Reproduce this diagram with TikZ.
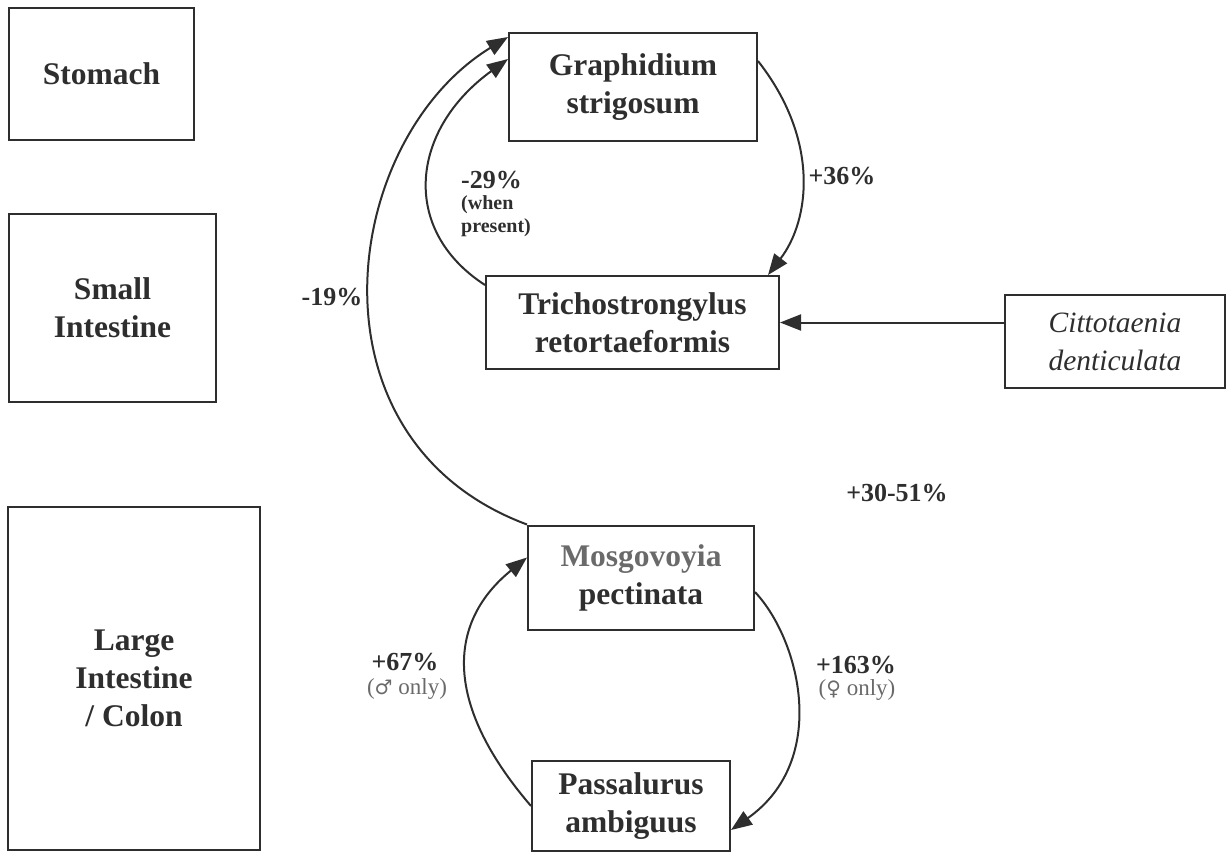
\documentclass[tikz,border=0pt]{standalone}
\usepackage{fontspec}
\setmainfont{Liberation Serif}
\newfontfamily\symfont{DejaVu Sans}
\usetikzlibrary{arrows.meta}
\definecolor{ink}{HTML}{2E2E2E}
\definecolor{soft}{HTML}{6A6A6A}
\begin{document}
\begin{tikzpicture}[x=1pt,y=-1pt,
  box/.style={draw=ink, line width=2pt, align=center, text=ink, inner sep=0pt,
    font=\bfseries\fontsize{31.5}{38}\selectfont},
  conn/.style={draw=ink, line width=2pt, -{Triangle[length=21pt,width=16pt]}},
  pct/.style={text=ink, inner sep=0pt, font=\bfseries\fontsize{26}{30}\selectfont},
  note/.style={text=soft, inner sep=0pt, font=\fontsize{23}{26}\selectfont}]
\useasboundingbox (0,0) rectangle (1232,855);
% organ boxes
\node[box, minimum width=185pt, minimum height=132pt] (sto) at (101.5,74) {Stomach};
\node[box, minimum width=207pt, minimum height=188pt] (sma) at (112.5,308) {Small\\Intestine};
\node[box, minimum width=252pt, minimum height=343pt] (lar) at (134,678.5) {Large\\Intestine\\/ Colon};
% parasite boxes
\node[box, minimum width=248pt, minimum height=108pt] (gra) at (633,87) {Graphidium\\strigosum};
\node[box, minimum width=293pt, minimum height=93pt] (tri) at (632.5,322.5) {Trichostrongylus\\retortaeformis};
\node[box, minimum width=220pt, minimum height=93pt, font=\itshape\fontsize{29.5}{38}\selectfont] (cit) at (1115,341.5) {Cittotaenia\\denticulata};
\node[box, minimum width=226pt, minimum height=104pt] (mos) at (641,577.5) {{\color{soft}Mosgovoyia}\\pectinata};
\node[box, minimum width=198pt, minimum height=90pt] (pas) at (631,806) {Passalurus\\ambiguus};
% connectors
\draw[conn] (mos.north west) .. controls (300,440) and (340,140) .. ([yshift=-5pt]gra.north west);
\draw[conn] ([yshift=-10pt]tri.north west) .. controls (400,230) and (410,130) .. ([yshift=-27pt]gra.north west);
\draw[conn] ([yshift=-29pt]gra.north east) .. controls (820,140) and (810,220) .. ([xshift=-12pt]tri.north east);
\draw[conn] (cit.west |- tri.east) -- (tri.east);
\draw[conn] (pas.west) .. controls (440,700) and (450,620) .. ([yshift=20pt]mos.west);
\draw[conn] ([yshift=-14.5pt]mos.east) .. controls (800,640) and (830,760) .. ([yshift=-24pt]pas.east);
% labels
\node[pct] (l19) at (332,297) {-19\%};
\node[pct, anchor=west] (l29) at (461,180) {-29\%};
\node[text=ink, inner sep=0pt, anchor=north west, align=left, font=\bfseries\fontsize{20}{23}\selectfont] (l29b) at (461,195) {(when\\present)};
\node[pct] (l36) at (842,176) {+36\%};
\node[pct] (l3051) at (897,493) {+30-51\%};
\node[pct] (l67) at (405,662) {+67\%};
\node[note] (l67b) at (407,689) {({\symfont\fontsize{20}{26}\selectfont ♂} only)};
\node[pct] (l163) at (856,665) {+163\%};
\node[note] (l163b) at (857,690) {({\symfont\fontsize{20}{26}\selectfont ♀} only)};
\end{tikzpicture}
\end{document}
